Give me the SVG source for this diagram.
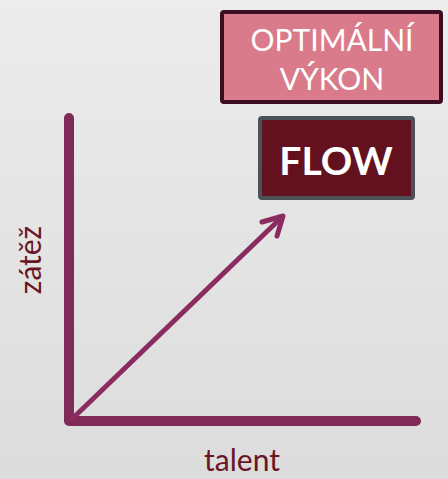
<svg xmlns="http://www.w3.org/2000/svg" width="448" height="479" viewBox="0 0 448 479">
<defs>
<linearGradient id="bg" x1="0" y1="0" x2="0" y2="1">
<stop offset="0" stop-color="#ececec"/>
<stop offset="1" stop-color="#dcdcdc"/>
</linearGradient>
<style>
.axis{stroke:#7f2a57;stroke-width:10;fill:none;stroke-linecap:round;stroke-linejoin:round}
.arrow{stroke:#8b2c61;stroke-width:5;fill:none;stroke-linecap:round;stroke-linejoin:round}
.lbl{font-family:Lato,"Open Sans","Liberation Sans",sans-serif;fill:#6a1524;font-size:30px}
.box1{fill:#d97b8b;stroke:#3b0e24;stroke-width:4}
.box2{fill:#64111f;stroke:#4b5157;stroke-width:4}
.t1{font-family:Lato,"Open Sans","Liberation Sans",sans-serif;fill:#ffffff;font-size:30px;text-anchor:middle}
.t2{font-family:Lato,"Open Sans","Liberation Sans",sans-serif;fill:#ffffff;font-size:39px;font-weight:bold;text-anchor:middle}
</style>
</defs>
<rect width="448" height="479" fill="url(#bg)"/>
<g id="connectors">
<polyline class="axis" points="69,118 69,421 416,421"/>
<line class="arrow" x1="72" y1="419" x2="281" y2="218"/>
<polyline class="arrow" points="262,222 283,216 277,236"/>
</g>
<g id="optimalni">
<rect class="box1" x="222" y="12" width="219" height="90" rx="2"/>
<text class="t1" x="332" y="51">OPTIMÁLNÍ</text>
<text class="t1" x="332" y="90">VÝKON</text>
</g>
<g id="flow">
<rect class="box2" x="260" y="118" width="153" height="80" rx="2"/>
<text class="t2" x="336" y="175">FLOW</text>
</g>
<g id="labels">
<text class="lbl" transform="translate(41,260) rotate(-90)" text-anchor="middle">zátěž</text>
<text class="lbl" x="242" y="471" text-anchor="middle">talent</text>
</g>
</svg>
